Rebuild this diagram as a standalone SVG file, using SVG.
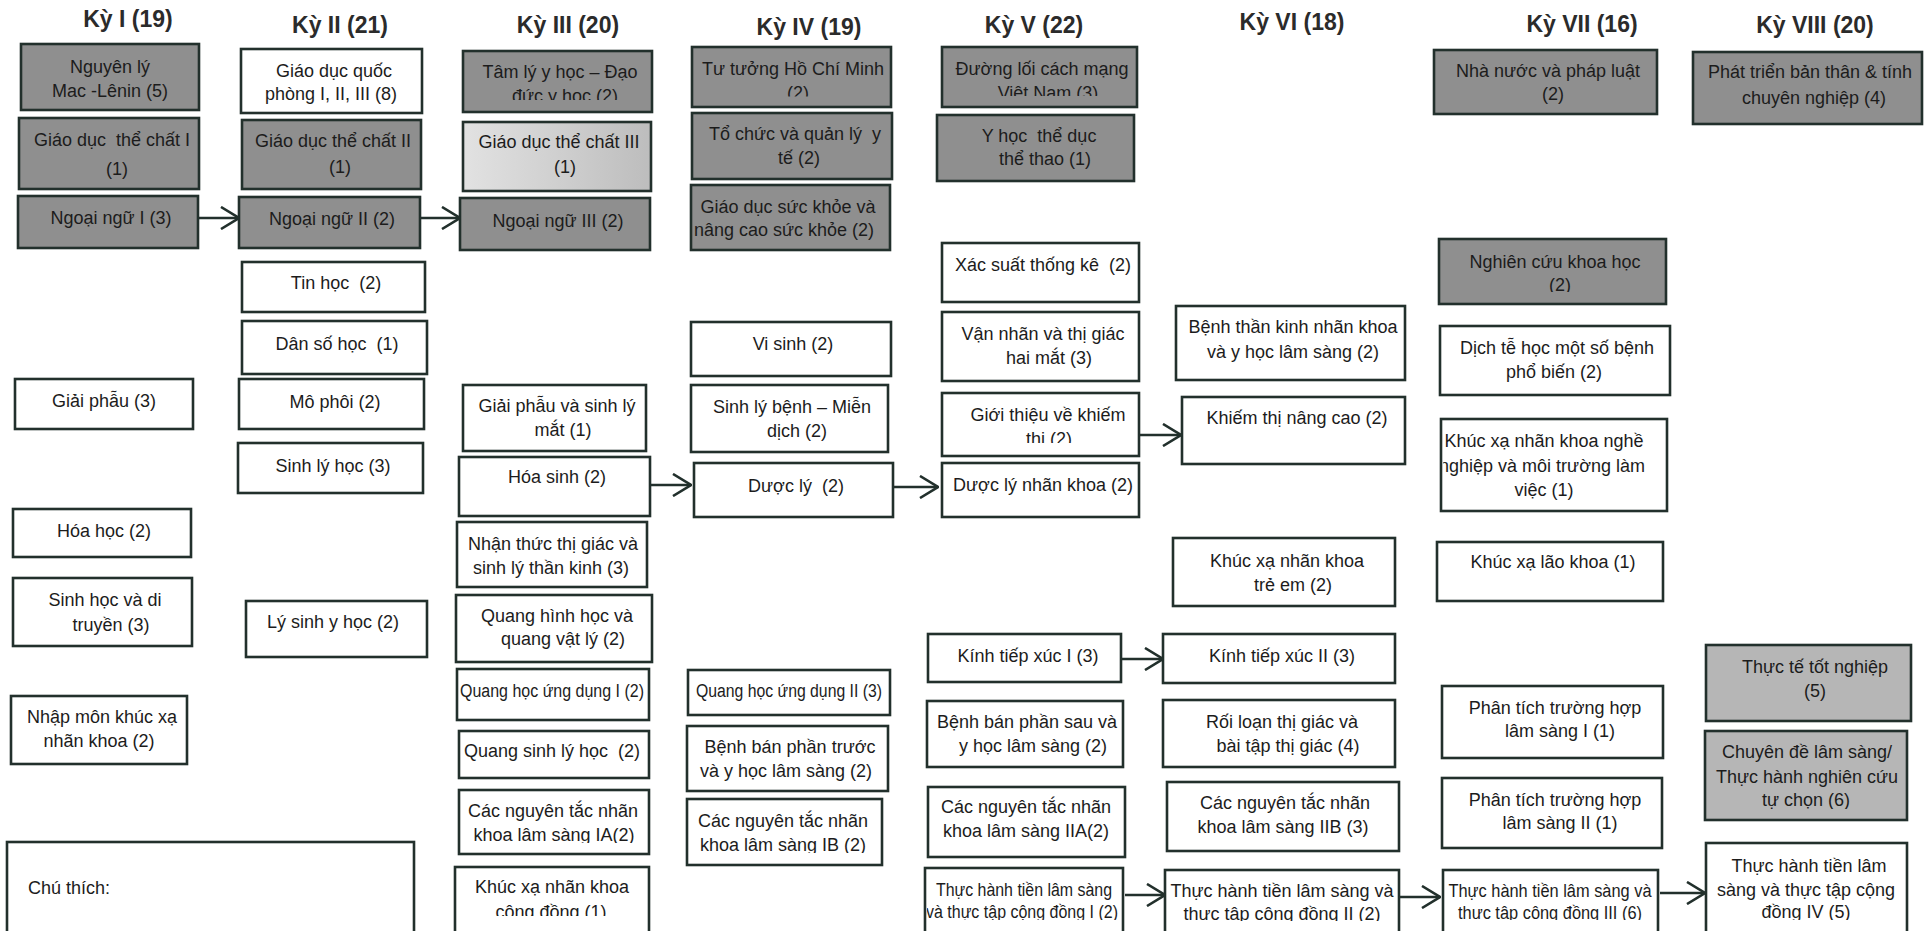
<svg xmlns="http://www.w3.org/2000/svg" width="1930" height="931" viewBox="0 0 1930 931">
<defs>
<style>
.node rect{stroke:#22302c;stroke-width:2.6;fill:#fff}
.dark rect{fill:#8f8f8f}
.mid rect{fill:#b6b6b6}
.light rect{fill:url(#lightGrad)}
text{font-family:"Liberation Sans",Arial,sans-serif;font-size:18px;fill:#1c1c1c;text-anchor:middle}
.hdr{font-weight:bold;font-size:23px;fill:#2b2b2b}
.conn line{stroke:#22302c;stroke-width:2.6;fill:none;marker-end:url(#arr)}
</style>
<linearGradient id="lightGrad" x1="0" y1="0" x2="1" y2="0"><stop offset="0" stop-color="#e2e2e2"/><stop offset="1" stop-color="#bdbdbd"/></linearGradient>
<marker id="arr" viewBox="0 0 20 24" refX="19" refY="12" markerWidth="20" markerHeight="24" markerUnits="userSpaceOnUse" orient="auto"><path d="M1,1 L19,12 L1,23" fill="none" stroke="#22302c" stroke-width="2.6"/></marker>
<clipPath id="c3a"><rect x="463" y="51" width="189" height="49"/></clipPath>
<clipPath id="c4a"><rect x="692" y="47" width="199" height="49.5"/></clipPath>
<clipPath id="c5a"><rect x="942" y="47" width="195" height="49"/></clipPath>
<clipPath id="c5e"><rect x="942" y="393" width="197" height="50"/></clipPath>
<clipPath id="c3j"><rect x="459" y="790" width="190" height="53"/></clipPath>
<clipPath id="c4i"><rect x="687" y="799" width="195" height="54"/></clipPath>
<clipPath id="c3k"><rect x="455" y="867" width="194" height="49"/></clipPath>
<clipPath id="c5j"><rect x="927" y="868" width="196" height="52"/></clipPath>
<clipPath id="c6g"><rect x="1165" y="870" width="234" height="51"/></clipPath>
<clipPath id="c7h"><rect x="1443" y="870" width="215" height="50"/></clipPath>
<clipPath id="c8d"><rect x="1706" y="843" width="201" height="77"/></clipPath>
<clipPath id="c7b"><rect x="1439" y="239" width="227" height="53"/></clipPath>
<clipPath id="c8c"><rect x="1705" y="731" width="202" height="78"/></clipPath>
<clipPath id="c7d"><rect x="1443" y="419" width="224" height="92"/></clipPath>
</defs>
<rect x="0" y="0" width="1930" height="931" fill="#ffffff"/>

<g id="headers">
<text class="hdr" x="128" y="27">Kỳ I (19)</text>
<text class="hdr" x="340" y="33">Kỳ II (21)</text>
<text class="hdr" x="568" y="33">Kỳ III (20)</text>
<text class="hdr" x="809" y="35">Kỳ IV (19)</text>
<text class="hdr" x="1034" y="33">Kỳ V (22)</text>
<text class="hdr" x="1292" y="30">Kỳ VI (18)</text>
<text class="hdr" x="1582" y="32">Kỳ VII (16)</text>
<text class="hdr" x="1815" y="33">Kỳ VIII (20)</text>
</g>

<!-- Ky I -->
<g id="n1a" class="node dark"><rect x="21" y="44" width="178" height="66"/><text><tspan x="110" y="73">Nguyên lý</tspan><tspan x="110" y="97">Mac -Lênin (5)</tspan></text></g>
<g id="n1b" class="node dark"><rect x="19" y="118" width="180" height="71"/><text xml:space="preserve"><tspan x="112" y="146">Giáo dục  thể chất I</tspan><tspan x="117" y="175">(1)</tspan></text></g>
<g id="n1c" class="node dark"><rect x="18" y="196" width="180" height="52"/><text x="111" y="224">Ngoại ngữ I (3)</text></g>
<g id="n1d" class="node"><rect x="15" y="379" width="178" height="50"/><text x="104" y="407">Giải phẫu (3)</text></g>
<g id="n1e" class="node"><rect x="13" y="509" width="178" height="48"/><text x="104" y="537">Hóa học (2)</text></g>
<g id="n1f" class="node"><rect x="13" y="578" width="179" height="68"/><text><tspan x="105" y="606">Sinh học và di</tspan><tspan x="111" y="631">truyền (3)</tspan></text></g>
<g id="n1g" class="node"><rect x="11" y="696" width="176" height="68"/><text><tspan x="102" y="723">Nhập môn khúc xạ</tspan><tspan x="99" y="747">nhãn khoa (2)</tspan></text></g>
<g id="legend" class="node"><rect x="7" y="842" width="407" height="110"/><text x="28" y="894" style="text-anchor:start">Chú thích:</text></g>

<!-- Ky II -->
<g id="n2a" class="node"><rect x="241" y="49" width="181" height="64"/><text><tspan x="334" y="77">Giáo dục quốc</tspan><tspan x="331" y="100">phòng I, II, III (8)</tspan></text></g>
<g id="n2b" class="node dark"><rect x="242" y="120" width="179" height="69"/><text><tspan x="333" y="147">Giáo dục thể chất II</tspan><tspan x="340" y="173">(1)</tspan></text></g>
<g id="n2c" class="node dark"><rect x="239" y="197" width="181" height="51"/><text x="332" y="225">Ngoại ngữ II (2)</text></g>
<g id="n2d" class="node"><rect x="242" y="262" width="183" height="50"/><text x="336" y="289" xml:space="preserve">Tin học  (2)</text></g>
<g id="n2e" class="node"><rect x="242" y="321" width="185" height="53"/><text x="337" y="350" xml:space="preserve">Dân số học  (1)</text></g>
<g id="n2f" class="node"><rect x="239" y="379" width="185" height="50"/><text x="335" y="408">Mô phôi (2)</text></g>
<g id="n2g" class="node"><rect x="238" y="443" width="185" height="50"/><text x="333" y="472">Sinh lý học (3)</text></g>
<g id="n2h" class="node"><rect x="246" y="601" width="181" height="56"/><text x="333" y="628">Lý sinh y học (2)</text></g>

<!-- Ky III -->
<g id="n3a" class="node dark"><rect x="463" y="51" width="189" height="61"/><text clip-path="url(#c3a)"><tspan x="560" y="78">Tâm lý y học – Đạo</tspan><tspan x="565" y="102">đức y học (2)</tspan></text></g>
<g id="n3b" class="node light"><rect x="463" y="122" width="188" height="69"/><text><tspan x="559" y="148">Giáo dục thể chất III</tspan><tspan x="565" y="173">(1)</tspan></text></g>
<g id="n3c" class="node dark"><rect x="460" y="198" width="190" height="52"/><text x="558" y="227">Ngoại ngữ III (2)</text></g>
<g id="n3d" class="node"><rect x="463" y="385" width="183" height="66"/><text><tspan x="557" y="412">Giải phẫu và sinh lý</tspan><tspan x="563" y="436">mắt (1)</tspan></text></g>
<g id="n3e" class="node"><rect x="459" y="457" width="191" height="59"/><text x="557" y="483">Hóa sinh (2)</text></g>
<g id="n3f" class="node"><rect x="457" y="522" width="190" height="65"/><text><tspan x="553" y="550">Nhận thức thị giác và</tspan><tspan x="551" y="574">sinh lý thần kinh (3)</tspan></text></g>
<g id="n3g" class="node"><rect x="456" y="595" width="196" height="67"/><text><tspan x="557" y="622">Quang hình học và</tspan><tspan x="563" y="645">quang vật lý (2)</tspan></text></g>
<g id="n3h" class="node"><rect x="457" y="669" width="192" height="51"/><text x="552" y="697" textLength="184" lengthAdjust="spacingAndGlyphs">Quang học ứng dụng I (2)</text></g>
<g id="n3i" class="node"><rect x="459" y="731" width="190" height="47"/><text x="552" y="757" xml:space="preserve">Quang sinh lý học  (2)</text></g>
<g id="n3j" class="node"><rect x="459" y="790" width="190" height="64"/><text clip-path="url(#c3j)"><tspan x="553" y="817">Các nguyên tắc nhãn</tspan><tspan x="554" y="841">khoa lâm sàng IA(2)</tspan></text></g>
<g id="n3k" class="node"><rect x="455" y="867" width="194" height="80"/><text clip-path="url(#c3k)"><tspan x="552" y="893">Khúc xạ nhãn khoa</tspan><tspan x="551" y="918">cộng đồng (1)</tspan></text></g>

<!-- Ky IV -->
<g id="n4a" class="node dark"><rect x="692" y="47" width="199" height="60"/><text clip-path="url(#c4a)"><tspan x="793" y="75">Tư tưởng Hồ Chí Minh</tspan><tspan x="798" y="99">(2)</tspan></text></g>
<g id="n4b" class="node dark"><rect x="692" y="113" width="200" height="66"/><text xml:space="preserve"><tspan x="795" y="140">Tổ chức và quản lý  y</tspan><tspan x="799" y="164">tế (2)</tspan></text></g>
<g id="n4c" class="node dark"><rect x="691" y="185" width="199" height="65"/><text><tspan x="788" y="213">Giáo dục sức khỏe và</tspan><tspan x="784" y="236">nâng cao sức khỏe (2)</tspan></text></g>
<g id="n4d" class="node"><rect x="691" y="322" width="200" height="54"/><text x="793" y="350">Vi sinh (2)</text></g>
<g id="n4e" class="node"><rect x="691" y="385" width="197" height="67"/><text><tspan x="792" y="413">Sinh lý bệnh – Miễn</tspan><tspan x="797" y="437">dịch (2)</tspan></text></g>
<g id="n4f" class="node"><rect x="694" y="463" width="199" height="54"/><text x="796" y="492" xml:space="preserve">Dược lý  (2)</text></g>
<g id="n4g" class="node"><rect x="688" y="670" width="202" height="45"/><text x="789" y="697" textLength="186" lengthAdjust="spacingAndGlyphs">Quang học ứng dụng II (3)</text></g>
<g id="n4h" class="node"><rect x="687" y="726" width="201" height="65"/><text><tspan x="790" y="753">Bệnh bán phần trước</tspan><tspan x="786" y="777">và y học lâm sàng (2)</tspan></text></g>
<g id="n4i" class="node"><rect x="687" y="799" width="195" height="66"/><text clip-path="url(#c4i)"><tspan x="783" y="827">Các nguyên tắc nhãn</tspan><tspan x="783" y="851">khoa lâm sàng IB (2)</tspan></text></g>

<!-- Ky V -->
<g id="n5a" class="node dark"><rect x="942" y="47" width="195" height="60"/><text clip-path="url(#c5a)"><tspan x="1042" y="75">Đường lối cách mạng</tspan><tspan x="1048" y="99">Việt Nam (3)</tspan></text></g>
<g id="n5b" class="node dark"><rect x="937" y="115" width="197" height="66"/><text xml:space="preserve"><tspan x="1039" y="142">Y học  thể dục</tspan><tspan x="1045" y="165">thể thao (1)</tspan></text></g>
<g id="n5c" class="node"><rect x="942" y="243" width="197" height="59"/><text x="1043" y="271" xml:space="preserve">Xác suất thống kê  (2)</text></g>
<g id="n5d" class="node"><rect x="942" y="312" width="197" height="69"/><text><tspan x="1043" y="340">Vận nhãn và thị giác</tspan><tspan x="1049" y="364">hai mắt (3)</tspan></text></g>
<g id="n5e" class="node"><rect x="942" y="393" width="197" height="63"/><text clip-path="url(#c5e)"><tspan x="1048" y="421">Giới thiệu về khiếm</tspan><tspan x="1049" y="445">thị (2)</tspan></text></g>
<g id="n5f" class="node"><rect x="942" y="463" width="197" height="54"/><text x="1043" y="491">Dược lý nhãn khoa (2)</text></g>
<g id="n5g" class="node"><rect x="928" y="634" width="193" height="48"/><text x="1028" y="662">Kính tiếp xúc I (3)</text></g>
<g id="n5h" class="node"><rect x="927" y="701" width="196" height="66"/><text><tspan x="1027" y="728">Bệnh bán phần sau và</tspan><tspan x="1033" y="752">y học lâm sàng (2)</tspan></text></g>
<g id="n5i" class="node"><rect x="928" y="787" width="197" height="70"/><text><tspan x="1026" y="813">Các nguyên tắc nhãn</tspan><tspan x="1026" y="837">khoa lâm sàng IIA(2)</tspan></text></g>
<g id="n5j" class="node"><rect x="925" y="868" width="198" height="80"/><text clip-path="url(#c5j)"><tspan x="1024" y="896" textLength="176" lengthAdjust="spacingAndGlyphs">Thực hành tiền lâm sàng</tspan><tspan x="1022" y="918" textLength="192" lengthAdjust="spacingAndGlyphs">và thực tập cộng đồng I (2)</tspan></text></g>

<!-- Ky VI -->
<g id="n6a" class="node"><rect x="1176" y="306" width="229" height="74"/><text><tspan x="1293" y="333">Bệnh thần kinh nhãn khoa</tspan><tspan x="1293" y="358">và y học lâm sàng (2)</tspan></text></g>
<g id="n6b" class="node"><rect x="1182" y="397" width="223" height="67"/><text x="1297" y="424">Khiếm thị nâng cao (2)</text></g>
<g id="n6c" class="node"><rect x="1173" y="538" width="222" height="68"/><text><tspan x="1287" y="567">Khúc xạ nhãn khoa</tspan><tspan x="1293" y="591">trẻ em (2)</tspan></text></g>
<g id="n6d" class="node"><rect x="1163" y="634" width="232" height="49"/><text x="1282" y="662">Kính tiếp xúc II (3)</text></g>
<g id="n6e" class="node"><rect x="1163" y="700" width="232" height="67"/><text><tspan x="1282" y="728">Rối loạn thị giác và</tspan><tspan x="1288" y="752">bài tập thị giác (4)</tspan></text></g>
<g id="n6f" class="node"><rect x="1167" y="782" width="232" height="69"/><text><tspan x="1285" y="809">Các nguyên tắc nhãn</tspan><tspan x="1283" y="833">khoa lâm sàng IIB (3)</tspan></text></g>
<g id="n6g" class="node"><rect x="1165" y="870" width="234" height="80"/><text clip-path="url(#c6g)"><tspan x="1282" y="897">Thực hành tiền lâm sàng và</tspan><tspan x="1282" y="920">thực tập cộng đồng II (2)</tspan></text></g>

<!-- Ky VII -->
<g id="n7a" class="node dark"><rect x="1434" y="50" width="223" height="64"/><text><tspan x="1548" y="77">Nhà nước và pháp luật</tspan><tspan x="1553" y="100">(2)</tspan></text></g>
<g id="n7b" class="node dark"><rect x="1439" y="239" width="227" height="65"/><text clip-path="url(#c7b)"><tspan x="1555" y="268">Nghiên cứu khoa học</tspan><tspan x="1560" y="291">(2)</tspan></text></g>
<g id="n7c" class="node"><rect x="1440" y="326" width="230" height="69"/><text><tspan x="1557" y="354">Dịch tễ học một số bệnh</tspan><tspan x="1554" y="378">phổ biến (2)</tspan></text></g>
<g id="n7d" class="node"><rect x="1441" y="419" width="226" height="92"/><text clip-path="url(#c7d)"><tspan x="1544" y="447">Khúc xạ nhãn khoa nghề</tspan><tspan x="1542" y="472">nghiệp và môi trường làm</tspan><tspan x="1544" y="496">việc (1)</tspan></text></g>
<g id="n7e" class="node"><rect x="1437" y="542" width="226" height="59"/><text x="1553" y="568">Khúc xạ lão khoa (1)</text></g>
<g id="n7f" class="node"><rect x="1442" y="686" width="221" height="72"/><text><tspan x="1555" y="714">Phân tích trường hợp</tspan><tspan x="1560" y="737">lâm sàng I (1)</tspan></text></g>
<g id="n7g" class="node"><rect x="1442" y="778" width="220" height="70"/><text><tspan x="1555" y="806">Phân tích trường hợp</tspan><tspan x="1560" y="829">lâm sàng II (1)</tspan></text></g>
<g id="n7h" class="node"><rect x="1443" y="870" width="215" height="80"/><text clip-path="url(#c7h)"><tspan x="1550" y="897" textLength="203" lengthAdjust="spacingAndGlyphs">Thực hành tiền lâm sàng và</tspan><tspan x="1550" y="919" textLength="184" lengthAdjust="spacingAndGlyphs">thực tập cộng đồng III (6)</tspan></text></g>

<!-- Ky VIII -->
<g id="n8a" class="node dark"><rect x="1693" y="52" width="229" height="72"/><text><tspan x="1810" y="78">Phát triển bản thân &amp; tính</tspan><tspan x="1814" y="104">chuyên nghiệp (4)</tspan></text></g>
<g id="n8b" class="node mid"><rect x="1706" y="645" width="205" height="76"/><text><tspan x="1815" y="673">Thực tế tốt nghiệp</tspan><tspan x="1815" y="697">(5)</tspan></text></g>
<g id="n8c" class="node mid"><rect x="1705" y="731" width="202" height="89"/><text clip-path="url(#c8c)"><tspan x="1807" y="758">Chuyên đề lâm sàng/</tspan><tspan x="1807" y="783">Thực hành nghiên cứu</tspan><tspan x="1806" y="806">tự chọn (6)</tspan></text></g>
<g id="n8d" class="node"><rect x="1706" y="843" width="201" height="100"/><text clip-path="url(#c8d)"><tspan x="1809" y="872">Thực hành tiền lâm</tspan><tspan x="1806" y="896">sàng và thực tập cộng</tspan><tspan x="1806" y="918">đồng IV (5)</tspan></text></g>

<g id="connectors" class="conn">
<line x1="198" y1="218" x2="239" y2="218"/>
<line x1="420" y1="218" x2="460" y2="218"/>
<line x1="650" y1="485" x2="691" y2="485"/>
<line x1="893" y1="487" x2="938" y2="487"/>
<line x1="1139" y1="435" x2="1181" y2="435"/>
<line x1="1121" y1="659" x2="1163" y2="659"/>
<line x1="1125" y1="895" x2="1165" y2="895"/>
<line x1="1399" y1="897" x2="1440" y2="897"/>
<line x1="1660" y1="893" x2="1705" y2="893"/>
</g>
</svg>
